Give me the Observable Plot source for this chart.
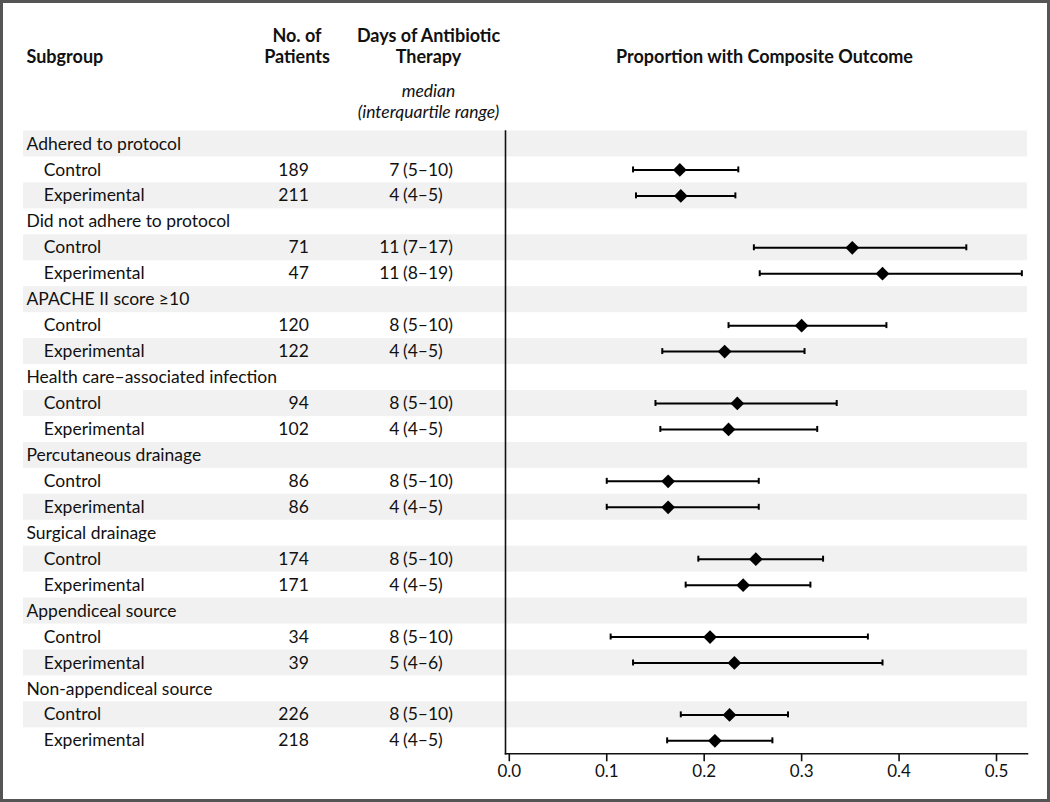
<!DOCTYPE html>
<html><head><meta charset="utf-8">
<script src="https://cdn.jsdelivr.net/npm/d3@7"></script>
<script src="https://cdn.jsdelivr.net/npm/@observablehq/plot@0.6"></script>
<style>
html,body{margin:0;padding:0;background:#fff;}
#wrap{position:relative;width:1050px;height:802px;overflow:hidden;}
#wrap svg{position:absolute;left:0;top:0;}
#border{position:absolute;left:0;top:0;width:1050px;height:802px;box-sizing:border-box;border:3px solid #555;pointer-events:none;}
</style></head><body><div id="wrap"><div id="border"></div></div>
<script>
// ---- data ----
const groups = ["Adhered to protocol", "Did not adhere to protocol", "APACHE II score \u226510",
  "Health care\u2013associated infection", "Percutaneous drainage", "Surgical drainage",
  "Appendiceal source", "Non-appendiceal source"];
const arms = ["Control", "Experimental"];
// order: for each group, Control then Experimental
const patients   = [189, 211, 71, 47, 120, 122, 94, 102, 86, 86, 174, 171, 34, 39, 226, 218];
const medianDays = [7, 4, 11, 11, 8, 4, 8, 4, 8, 4, 8, 4, 8, 5, 8, 4];
const iqrDays    = ["5\u201310","4\u20135","7\u201317","8\u201319","5\u201310","4\u20135","5\u201310","4\u20135",
                    "5\u201310","4\u20135","5\u201310","4\u20135","5\u201310","4\u20136","5\u201310","4\u20135"];
const proportion = [0.175, 0.176, 0.352, 0.383, 0.300, 0.221, 0.234, 0.225, 0.163, 0.163, 0.253, 0.240, 0.206, 0.231, 0.226, 0.211];
const ciLow      = [0.127, 0.130, 0.251, 0.257, 0.225, 0.157, 0.150, 0.155, 0.100, 0.100, 0.194, 0.181, 0.104, 0.127, 0.176, 0.162];
const ciHigh     = [0.235, 0.232, 0.469, 0.526, 0.387, 0.303, 0.336, 0.316, 0.256, 0.256, 0.322, 0.309, 0.368, 0.383, 0.286, 0.270];
const xTicks = [0, 0.1, 0.2, 0.3, 0.4, 0.5];
const xDomain = [-0.0039, 0.5318];
const colSubgroup = "Subgroup";
const colPatients = ["No. of", "Patients"];
const colDays = ["Days of Antibiotic", "Therapy"];
const colDaysStat = ["median", "(interquartile range)"];
const colOutcome = "Proportion with Composite Outcome";

// ---- table ----
const rows = [];
groups.forEach((g, i) => {
  rows.push({row: rows.length, label: g, kind: "group"});
  arms.forEach((a, j) => {
    const k = i * 2 + j;
    rows.push({row: rows.length, label: a, kind: "arm", n: patients[k], med: String(medianDays[k]),
      iqr: "(" + iqrDays[k] + ")", p: proportion[k], lo: ciLow[k], hi: ciHigh[k]});
  });
});
const groupRows = rows.filter(d => d.kind === "group");
const armRows = rows.filter(d => d.kind === "arm");
const shaded = rows.filter(d => d.row % 2 === 0);

const ink = "#111";
function header(text, dx, dy, opts = {}) {
  return Plot.text([text], {frameAnchor: "top-left", lineAnchor: "middle", textAnchor: "middle", dx, dy, fill: ink,
    text: d => d, ...opts});
}

const chart = Plot.plot({
  width: 1050, height: 802,
  marginLeft: 505, marginRight: 23, marginTop: 130.5, marginBottom: 48.7,
  x: {domain: xDomain},
  y: {type: "band", domain: rows.map(d => d.row), padding: 0, round: false, axis: null},
  style: {fontFamily: "Lato, 'Open Sans', sans-serif", fontSize: "17.5px", color: ink, background: "transparent"},
  marks: [
    Plot.cell(shaded, {y: "row", fill: "#f1f1f1", insetLeft: -482}),
    Plot.frame({anchor: "left", stroke: ink, strokeWidth: 1.6}),
    Plot.frame({anchor: "bottom", stroke: ink, strokeWidth: 1.6}),
    Plot.axisX({ticks: xTicks, tickFormat: d3.format(".1f"), tickSize: 8, tickPadding: 3,
      fontSize: 17, label: null, stroke: ink, strokeWidth: 1.6, fill: ink}),
    Plot.ruleY(armRows, {y: "row", x1: "lo", x2: "hi", stroke: "black", strokeWidth: 2}),
    Plot.tickX(armRows, {y: "row", x: "lo", stroke: "black", strokeWidth: 2, insetTop: 10, insetBottom: 10}),
    Plot.tickX(armRows, {y: "row", x: "hi", stroke: "black", strokeWidth: 2, insetTop: 10, insetBottom: 10}),
    Plot.dot(armRows, {y: "row", x: "p", symbol: "diamond2", r: 6.2, fill: "black", stroke: "none"}),
    // table text
    Plot.text(groupRows, {y: "row", text: "label", frameAnchor: "left", dx: -479, textAnchor: "start", fill: ink}),
    Plot.text(armRows, {y: "row", text: "label", frameAnchor: "left", dx: -461.7, textAnchor: "start", fill: ink}),
    Plot.text(armRows, {y: "row", text: "n", frameAnchor: "left", dx: -196.7, textAnchor: "end", fill: ink}),
    Plot.text(armRows, {y: "row", text: "med", frameAnchor: "left", dx: -106, textAnchor: "end", fill: ink}),
    Plot.text(armRows, {y: "row", text: "iqr", frameAnchor: "left", dx: -102.5, textAnchor: "start", fill: ink}),
    // headers
    header(colSubgroup, -479, -73.5, {textAnchor: "start", fontWeight: "bold", fontSize: 18}),
    header(colPatients[0], -208.5, -94.5, {fontWeight: "bold", fontSize: 18}),
    header(colPatients[1], -208.5, -73.5, {fontWeight: "bold", fontSize: 18}),
    header(colDays[0], -77, -94.5, {fontWeight: "bold", fontSize: 18}),
    header(colDays[1], -77, -73.5, {fontWeight: "bold", fontSize: 18}),
    header(colDaysStat[0], -77, -39.5, {fontStyle: "italic"}),
    header(colDaysStat[1], -77, -18.5, {fontStyle: "italic"}),
    header(colOutcome, 259, -73.5, {fontWeight: "bold", fontSize: 18})
  ]
});
document.getElementById("wrap").insertBefore(chart, document.getElementById("border"));
</script>
</body></html>
